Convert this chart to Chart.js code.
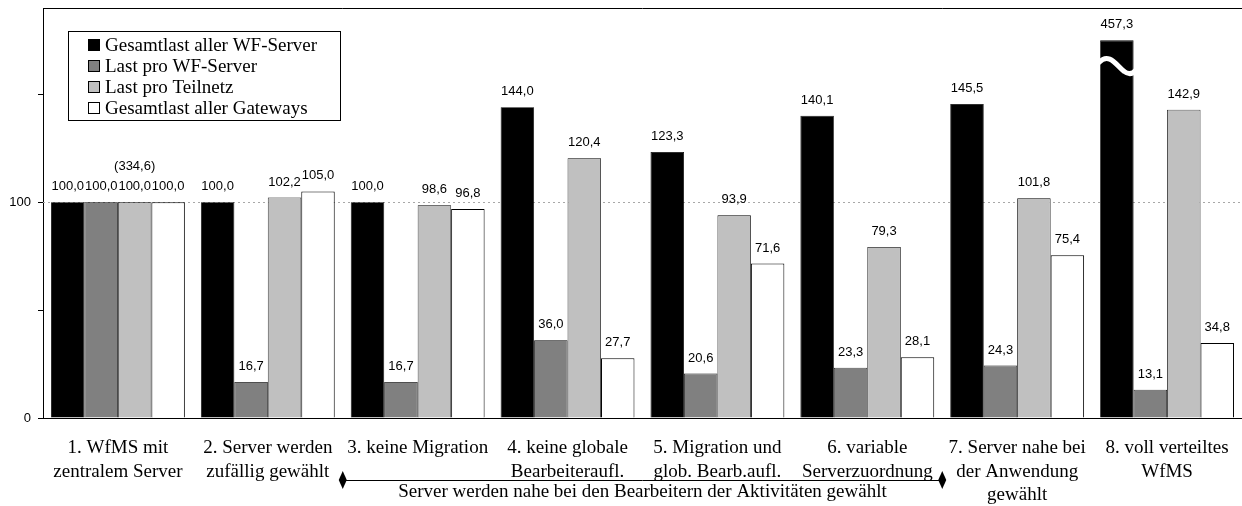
<!DOCTYPE html>
<html>
<head>
<meta charset="utf-8">
<script src="https://cdn.jsdelivr.net/npm/chart.js@4.4.1/dist/chart.umd.min.js"></script>
<style>
  html, body { margin: 0; padding: 0; background: #fff; }
  #wrap { width: 1242px; height: 506px; position: relative; }
</style>
</head>
<body>
<div id="wrap"><canvas id="c" width="1242" height="506"></canvas></div>
<script>
// ---- data ----
const categories = [
  ['1. WfMS mit', 'zentralem Server'],
  ['2. Server werden', 'zufällig gewählt'],
  ['3. keine Migration'],
  ['4. keine globale', 'Bearbeiteraufl.'],
  ['5. Migration und', 'glob. Bearb.aufl.'],
  ['6. variable', 'Serverzuordnung'],
  ['7. Server nahe bei', 'der Anwendung', 'gewählt'],
  ['8. voll verteiltes', 'WfMS']
];
const seriesNames = ['Gesamtlast aller WF-Server', 'Last pro WF-Server', 'Last pro Teilnetz', 'Gesamtlast aller Gateways'];
const gesamtlastServer   = [100.0, 100.0, 100.0, 144.0, 123.3, 140.1, 145.5, 457.3];
const lastProServer      = [100.0, 16.7, 16.7, 36.0, 20.6, 23.3, 24.3, 13.1];
const lastProTeilnetz    = [100.0, 102.2, 98.6, 120.4, 93.9, 79.3, 101.8, 142.9];
const gesamtlastGateways = [100.0, 105.0, 96.8, 27.7, 71.6, 28.1, 75.4, 34.8];
const seriesColors = ['#000000', '#808080', '#c0c0c0', '#ffffff'];
const yTickValues = [0, 50, 100, 150];
const yTickLabels = ['0', '', '100', ''];
const yMax = 190;
const breakCap = 175;           // bars above the axis range are drawn broken at this height
const extraNote = { text: '(334,6)', series: 2, category: 0 };
const spanNote = { text: 'Server werden nahe bei den Bearbeitern der Aktivitäten gewählt', from: 2, to: 5 };

const allSeries = [gesamtlastServer, lastProServer, lastProTeilnetz, gesamtlastGateways];
const fmt = v => v.toFixed(1).replace('.', ',');
const SERIF = '"Liberation Serif", "Times New Roman", serif';
const SANS = '"Liberation Sans", Arial, sans-serif';

const datasets = allSeries.map((vals, i) => ({
  label: seriesNames[i],
  data: vals.map(v => Math.min(v, breakCap)),
  rawValues: vals,
  backgroundColor: seriesColors[i],
  borderColor: '#000000',
  borderWidth: i === 3 ? 1 : 0.8,
  categoryPercentage: 0.893,
  barPercentage: 1.0
}));

const decorPlugin = {
  id: 'decor',
  beforeDatasetsDraw(chart) {
    const { ctx, chartArea, scales } = chart;
    const y100 = scales.y.getPixelForValue(100);
    ctx.save();
    ctx.strokeStyle = '#a8a8a8';
    ctx.lineWidth = 1;
    ctx.setLineDash([2, 3]);
    ctx.beginPath();
    ctx.moveTo(chartArea.left, Math.round(y100) + 0.5);
    ctx.lineTo(chartArea.right, Math.round(y100) + 0.5);
    ctx.stroke();
    ctx.restore();
  },
  afterDatasetsDraw(chart) {
    const { ctx, chartArea, scales } = chart;
    ctx.save();
    // value labels
    ctx.font = '13px ' + SANS;
    ctx.fillStyle = '#000';
    ctx.textAlign = 'center';
    ctx.textBaseline = 'bottom';
    chart.data.datasets.forEach((ds, di) => {
      const meta = chart.getDatasetMeta(di);
      meta.data.forEach((bar, ci) => {
        const raw = ds.rawValues[ci];
        ctx.fillStyle = '#000';
        ctx.fillText(fmt(raw), bar.x, bar.y - 9);
        if (raw > breakCap) {
          // break symbol
          const half = bar.width / 2;
          const x0 = bar.x - half, x1 = bar.x + half;
          const yb = bar.y + 22;
          ctx.save();
          ctx.strokeStyle = '#fff';
          ctx.lineWidth = 5;
          ctx.lineCap = 'round';
          ctx.beginPath();
          ctx.moveTo(x0 - 1, yb);
          ctx.bezierCurveTo(x0 + 9, yb - 11, x0 + 17, yb + 4, x0 + 24, yb + 9);
          ctx.quadraticCurveTo(x1 - 3, yb + 14, x1 + 2, yb + 8);
          ctx.stroke();
          ctx.restore();
        }
      });
    });
    // extra note
    const nb = chart.getDatasetMeta(extraNote.series).data[extraNote.category];
    ctx.fillText(extraNote.text, nb.x, nb.y - 29);

    // top frame line
    ctx.strokeStyle = '#000';
    ctx.lineWidth = 1;
    ctx.beginPath();
    ctx.moveTo(chartArea.left, chartArea.top + 0.5);
    ctx.lineTo(chart.width, chartArea.top + 0.5);
    ctx.stroke();

    // legend
    const lx = 68, ly = 31, lw = 272, lh = 89;
    ctx.strokeRect(lx + 0.5, ly + 0.5, lw, lh);
    ctx.font = '19px ' + SERIF;
    ctx.textAlign = 'left';
    ctx.textBaseline = 'middle';
    seriesNames.forEach((name, i) => {
      const cy = 45 + i * 21;
      ctx.fillStyle = seriesColors[i];
      ctx.fillRect(88, cy - 6, 12, 12);
      ctx.strokeStyle = '#000';
      ctx.strokeRect(88.5, cy - 5.5, 11, 11);
      ctx.fillStyle = '#000';
      ctx.fillText(name, 105, cy + 1);
    });

    // span annotation
    const xs = scales.x;
    const half = (xs.getPixelForValue(1) - xs.getPixelForValue(0)) / 2;
    const sx0 = xs.getPixelForValue(spanNote.from) - half;
    const sx1 = xs.getPixelForValue(spanNote.to) + half;
    const sy = 480;
    ctx.strokeStyle = '#000';
    ctx.lineWidth = 1;
    ctx.beginPath();
    ctx.moveTo(sx0, sy + 0.5);
    ctx.lineTo(sx1, sy + 0.5);
    ctx.stroke();
    [sx0, sx1].forEach(x => {
      ctx.beginPath();
      ctx.moveTo(x, sy - 9);
      ctx.lineTo(x + 4, sy);
      ctx.lineTo(x, sy + 9);
      ctx.lineTo(x - 4, sy);
      ctx.closePath();
      ctx.fillStyle = '#000';
      ctx.fill();
    });
    ctx.textAlign = 'center';
    ctx.textBaseline = 'middle';
    ctx.fillText(spanNote.text, (sx0 + sx1) / 2, sy + 12);
    ctx.restore();
  }
};

new Chart(document.getElementById('c'), {
  type: 'bar',
  data: { labels: categories, datasets },
  options: {
    responsive: false,
    animation: false,
    layout: { padding: { top: 8, right: 0, left: 0, bottom: 0 } },
    plugins: { legend: { display: false }, tooltip: { enabled: false } },
    scales: {
      x: {
        grid: { display: false },
        border: { display: true, color: '#000', width: 1 },
        ticks: {
          autoSkip: false, maxRotation: 0, minRotation: 0,
          color: '#000', padding: 10,
          font: { family: SERIF, size: 19, lineHeight: 1.25 }
        },
        afterFit(s) { s.height = 88; s.paddingLeft = 0; s.paddingRight = 0; }
      },
      y: {
        min: 0, max: yMax,
        afterBuildTicks(s) { s.ticks = yTickValues.map(v => ({ value: v })); },
        grid: { drawOnChartArea: false, tickLength: 5, color: '#000' },
        border: { display: true, color: '#000', width: 1 },
        ticks: {
          color: '#000', padding: 7,
          font: { family: SANS, size: 13 },
          callback(v) { const i = yTickValues.indexOf(v); return i >= 0 ? yTickLabels[i] : ''; }
        },
        afterFit(s) { s.width = 43; s.paddingTop = 0; s.paddingBottom = 0; }
      }
    }
  },
  plugins: [decorPlugin]
});
</script>
</body>
</html>
